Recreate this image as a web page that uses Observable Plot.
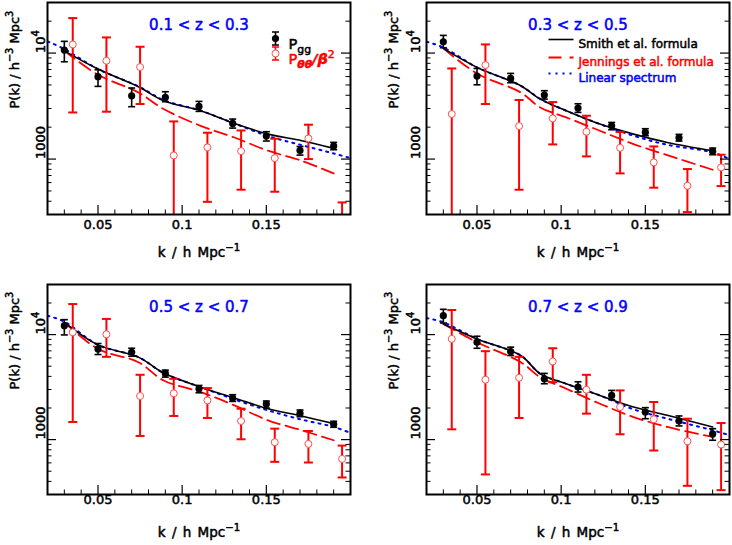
<!DOCTYPE html>
<html><head><meta charset="utf-8">
<script src="https://cdn.jsdelivr.net/npm/d3@7"></script>
<script src="https://cdn.jsdelivr.net/npm/@observablehq/plot@0.6"></script>
<style>
body{margin:0;background:#fff}
#wrap{position:relative;width:732px;height:545px;background:#fff}
.panel{position:absolute}
.panel svg{display:block}
</style>
</head><body><div id="wrap"></div>
<script>
// ---------- data ----------
const kDomain = [0.02, 0.2];
const pDomain = [300, 30000];
const kGG = [0.03, 0.05, 0.07, 0.09, 0.11, 0.13, 0.15, 0.17, 0.19];
const kTT = [0.035, 0.055, 0.075, 0.095, 0.115, 0.135, 0.155, 0.175, 0.195];
const kCurveL = [0.03, 0.05, 0.074, 0.089, 0.111, 0.131, 0.151, 0.171, 0.19];
const kCurveR = [0.03, 0.05, 0.076, 0.0875, 0.103, 0.123, 0.143, 0.163, 0.19];
const kLinL = [0.02, 0.03, 0.05, 0.074, 0.089, 0.111, 0.131, 0.151, 0.171, 0.19, 0.2];
const kLinR = [0.02, 0.03, 0.05, 0.076, 0.0875, 0.103, 0.123, 0.143, 0.163, 0.19, 0.2];

const xMajor = [0.05, 0.1, 0.15];
const xLabels = ["0.05", "0.1", "0.15"];
const xMinor = [0.03, 0.04, 0.06, 0.07, 0.08, 0.09, 0.11, 0.12, 0.13, 0.14, 0.16, 0.17, 0.18, 0.19];
const yMajor = [1000, 10000];
const yLabels = ["1000", "10^{4}"];
const yMinor = [400, 500, 600, 700, 800, 900, 2000, 3000, 4000, 5000, 6000, 7000, 8000, 9000, 20000];

const titles = ["0.1 < z < 0.3", "0.3 < z < 0.5", "0.5 < z < 0.7", "0.7 < z < 0.9"];
const xTitle = "k / h Mpc^{−1}";
const yTitle = "P(k) / h^{−3} Mpc^{3}";
const legendPoints = ["P_{gg}", "P!{θθ}~{/β}^{2}"];
const legendLines = ["Smith et al. formula", "Jennings et al. formula", "Linear spectrum"];

// panel 1: 0.1 < z < 0.3
const gg1 = [10670, 5990, 3955, 3816, 3141, 2170, 1648, 1208, 1327];
const gg1Lo = [8280, 4850, 3120, 3475, 2818, 1960, 1480, 1090, 1225];
const gg1Hi = [12900, 6960, 4680, 4320, 3500, 2384, 1812, 1316, 1437];
const tt1 = [12070, 8470, 7380, 1083, 1289, 1188, 1021, 1566, 230];
const tt1Lo = [2752, 2798, 3306, 100, 395, 514, 492, 1000, 100];
const tt1Hi = [21380, 14050, 11470, 2266, 1772, 1862, 1556, 2110, 390];
const smith1 = [10500, 7070, 4810, 3550, 2860, 2170, 1720, 1490, 1262];
const jen1 = [10500, 6250, 4250, 2966, 2060, 1598, 1199, 964, 732];
const lin1 = [12900, 10900, 7070, 4850, 3600, 2860, 2170, 1650, 1355, 1130, 1020];

// panel 2: 0.3 < z < 0.5
const gg2 = [12790, 6070, 5770, 4018, 3028, 2060, 1786, 1589, 1181];
const gg2Lo = [11230, 5020, 5250, 3680, 2755, 1890, 1660, 1478, 1099];
const gg2Hi = [14680, 7160, 6430, 4415, 3327, 2216, 1934, 1710, 1270];
const tt2 = [2660, 7710, 2046, 2420, 1812, 1278, 931, 560, 834];
const tt2Lo = [100, 3306, 514, 1375, 1060, 733, 537, 316, 556];
const tt2Hi = [7160, 12070, 3610, 3450, 2564, 1800, 1316, 805, 1099];
const smith2 = [11070, 7330, 4920, 3680, 2860, 2138, 1720, 1436, 1199];
const jen2 = [11070, 6420, 4250, 3070, 2470, 1850, 1386, 1090, 793];
const lin2 = [12790, 11300, 7330, 4920, 3700, 2860, 2138, 1660, 1365, 1156, 1000];

// panel 3: 0.5 < z < 0.7
const gg3 = [12170, 7310, 6790, 4270, 3050, 2490, 2183, 1778, 1399];
const gg3Lo = [9930, 6460, 6220, 3935, 2794, 2310, 2000, 1652, 1310];
const gg3Hi = [13880, 8220, 7410, 4590, 3280, 2677, 2330, 1914, 1494];
const tt3 = [10520, 10070, 2603, 2756, 2362, 1503, 944, 910, 655];
const tt3Lo = [1472, 6140, 1083, 1679, 1607, 1007, 614, 605, 436];
const tt3Hi = [19540, 14100, 4142, 3793, 3095, 1968, 1271, 1208, 877];
const smith3 = [13090, 7980, 6100, 4300, 3160, 2490, 1968, 1679, 1419];
const jen3 = [13090, 7310, 5460, 3655, 2837, 2120, 1527, 1227, 986];
const lin3 = [15140, 13280, 7980, 6100, 4300, 3160, 2416, 1897, 1549, 1319, 1157];

// panel 4: 0.7 < z < 0.9
const gg4 = [15140, 8460, 6900, 3793, 3162, 2636, 1832, 1503, 1132];
const gg4Lo = [12900, 7410, 6320, 3404, 2837, 2400, 1581, 1349, 986];
const gg4Hi = [17400, 9640, 7590, 4270, 3555, 2940, 2015, 1679, 1271];
const tt4 = [9100, 3718, 3882, 5550, 2985, 2042, 1561, 964, 897];
const tt4Lo = [1253, 466, 1607, 3525, 1767, 1124, 787, 363, 330];
const tt4Hi = [17140, 6950, 6140, 7410, 4140, 2940, 2280, 1581, 1438];
const smith4 = [12620, 9100, 6320, 4240, 3404, 2636, 2042, 1702, 1320];
const jen4 = [12620, 8460, 5460, 3935, 3050, 2197, 1640, 1320, 1060];
const lin4 = [14390, 13100, 9100, 6320, 4240, 3404, 2636, 1941, 1582, 1227, 1100];

// ---------- symbols ----------
const capSym = w => ({draw(c){ c.moveTo(-w,0); c.lineTo(w,0); }});
const hlineSym = w => ({draw(c){ c.moveTo(-w,0); c.lineTo(w,0); }});
const errSym = (h,w) => ({draw(c){ c.moveTo(0,-h); c.lineTo(0,h); c.moveTo(-w,-h); c.lineTo(w,-h); c.moveTo(-w,h); c.lineTo(w,h); }});

const RED = "#ff0000", BLUE = "#0000ff";
const FONT = "DejaVu Sans";
const TSW = 0.5; // slight text thickening

function txt(data, o) {
  return Plot.text(data, {stroke: o.fill, strokeWidth: TSW, paintOrder: "stroke", ...o});
}

function panel(cfg) {
  const m = cfg.m;
  const fw = cfg.W - m.l - m.r, fh = cfg.H - m.t - m.b;
  const idx = d3.range(kGG.length);
  const cI = d3.range(cfg.kc.length);
  const lI = d3.range(cfg.kl.length);
  const marks = [
    // model curves
    Plot.line(lI, {x: i => cfg.kl[i], y: i => cfg.lin[i], stroke: BLUE, strokeWidth: 2, strokeDasharray: "2,5", curve: "catmull-rom", clip: true}),
    Plot.line(cI, {x: i => cfg.kc[i], y: i => cfg.jen[i], stroke: RED, strokeWidth: 1.8, strokeDasharray: "13,6", curve: "catmull-rom", clip: true}),
    Plot.line(cI, {x: i => cfg.kc[i], y: i => cfg.smith[i], stroke: "black", strokeWidth: 1.6, curve: "catmull-rom", clip: true}),
    // P_gg error bars + points
    Plot.ruleX(idx, {x: i => kGG[i], y1: i => cfg.ggLo[i], y2: i => cfg.ggHi[i], stroke: "black", strokeWidth: 1.6, clip: true}),
    Plot.dot(idx, {x: i => kGG[i], y: i => cfg.ggHi[i], symbol: capSym(3.5), stroke: "black", fill: "none", strokeWidth: 1.6, clip: true}),
    Plot.dot(idx, {x: i => kGG[i], y: i => cfg.ggLo[i], symbol: capSym(3.5), stroke: "black", fill: "none", strokeWidth: 1.6, clip: true}),
    Plot.dot(idx, {x: i => kGG[i], y: i => cfg.gg[i], r: 3.6, fill: "black", stroke: "none", clip: true}),
    // P_tt error bars + points
    Plot.ruleX(idx, {x: i => kTT[i], y1: i => cfg.ttLo[i], y2: i => cfg.ttHi[i], stroke: RED, strokeWidth: 2, clip: true}),
    Plot.dot(idx, {x: i => kTT[i], y: i => cfg.ttHi[i], symbol: capSym(4.5), stroke: RED, fill: "none", strokeWidth: 2, clip: true}),
    Plot.dot(idx, {x: i => kTT[i], y: i => cfg.ttLo[i], symbol: capSym(4.5), stroke: RED, fill: "none", strokeWidth: 2, clip: true}),
    Plot.dot(idx, {x: i => kTT[i], y: i => cfg.tt[i], r: 3.5, fill: "white", stroke: "#ff5050", strokeWidth: 1, clip: true}),
    // ticks (inside the frame)
    Plot.tickY(yMinor, {y: d => d, insetRight: fw - 4.5, stroke: "black", strokeWidth: 1}),
    Plot.tickY(yMinor, {y: d => d, insetLeft: fw - 4.5, stroke: "black", strokeWidth: 1}),
    Plot.tickY(yMajor, {y: d => d, insetRight: fw - 9, stroke: "black", strokeWidth: 1.2}),
    Plot.tickY(yMajor, {y: d => d, insetLeft: fw - 9, stroke: "black", strokeWidth: 1.2}),
    Plot.tickX(xMinor, {x: d => d, insetTop: fh - 4.5, stroke: "black", strokeWidth: 1}),
    Plot.tickX(xMajor, {x: d => d, insetTop: fh - 9, stroke: "black", strokeWidth: 1.2}),
    Plot.frame({stroke: "black", strokeWidth: 2}),
    // tick labels
    txt(xMajor, {x: d => d, text: (d, i) => xLabels[i], frameAnchor: "bottom", dy: cfg.xlabDy, fontSize: 13, fill: "black"}),
    txt(yMajor, {y: d => d, text: (d, i) => yLabels[i], frameAnchor: "left", dx: -cfg.ylabGap, rotate: -90, lineAnchor: "bottom", fontSize: 13, fill: "black"}),
    // axis titles
    txt([xTitle], {text: d => d, frameAnchor: "bottom", dy: cfg.xtitDy, fontSize: 13.5, fill: "black"}),
    txt([yTitle], {text: d => d, frameAnchor: "left", dx: -33, rotate: -90, fontSize: 13, fill: "black"}),
    // panel title
    txt([cfg.title], {text: d => d, frameAnchor: "top", dy: 17, fontSize: 15, fill: BLUE})
  ];
  if (cfg.legendPoints) {
    marks.push(
      Plot.dot([0], {frameAnchor: "top-right", dx: -75, dy: 36, symbol: errSym(6.5, 3.5), stroke: "black", fill: "none", strokeWidth: 1.6}),
      Plot.dot([0], {frameAnchor: "top-right", dx: -75, dy: 36, r: 3.6, fill: "black", stroke: "none"}),
      Plot.dot([0], {frameAnchor: "top-right", dx: -75, dy: 51, symbol: errSym(6.5, 3.5), stroke: RED, fill: "none", strokeWidth: 1.6}),
      Plot.dot([0], {frameAnchor: "top-right", dx: -75, dy: 51, r: 3.5, fill: "white", stroke: "#ff5050", strokeWidth: 1}),
      txt([legendPoints[0]], {text: d => d, frameAnchor: "top-right", dx: -62, dy: 36, textAnchor: "start", fontSize: 14.5, fill: "black"}),
      txt([legendPoints[1]], {text: d => d, frameAnchor: "top-right", dx: -62, dy: 51, textAnchor: "start", fontSize: 14.5, fill: RED})
    );
  }
  if (cfg.legendLines) {
    marks.push(
      Plot.dot([0], {frameAnchor: "top-right", dx: -168.5, dy: 37, symbol: hlineSym(12.5), stroke: "black", fill: "none", strokeWidth: 1.6}),
      Plot.dot([0], {frameAnchor: "top-right", dx: -168.5, dy: 55, symbol: hlineSym(12.5), stroke: RED, fill: "none", strokeWidth: 1.8, strokeDasharray: "13,8"}),
      Plot.dot([0], {frameAnchor: "top-right", dx: -168.5, dy: 71, symbol: hlineSym(12.5), stroke: BLUE, fill: "none", strokeWidth: 2, strokeDasharray: "2,5"}),
      txt([legendLines[0]], {text: d => d, frameAnchor: "top-right", dx: -151, dy: 37, textAnchor: "start", fontSize: 12, fill: "black"}),
      txt([legendLines[1]], {text: d => d, frameAnchor: "top-right", dx: -151, dy: 55, textAnchor: "start", fontSize: 12, fill: RED}),
      txt([legendLines[2]], {text: d => d, frameAnchor: "top-right", dx: -151, dy: 71, textAnchor: "start", fontSize: 12, fill: BLUE})
    );
  }
  return Plot.plot({
    width: cfg.W, height: cfg.H,
    marginLeft: m.l, marginRight: m.r, marginTop: m.t, marginBottom: m.b,
    x: {domain: kDomain, axis: null},
    y: {type: "log", domain: pDomain, axis: null},
    style: {fontFamily: FONT, fontSize: "13px", background: "white", overflow: "visible"},
    marks
  });
}

const cfgs = [
  {left: 0, top: 0, W: 366, H: 272, m: {l: 47, r: 16, t: 2, b: 58}, ylabGap: 3, xlabDy: 14, xtitDy: 42, title: titles[0],
   gg: gg1, ggLo: gg1Lo, ggHi: gg1Hi, tt: tt1, ttLo: tt1Lo, ttHi: tt1Hi, kc: kCurveL, smith: smith1, jen: jen1, kl: kLinL, lin: lin1, legendPoints: true},
  {left: 366, top: 0, W: 366, H: 272, m: {l: 60, r: 3, t: 2, b: 58}, ylabGap: 7, xlabDy: 14, xtitDy: 42, title: titles[1],
   gg: gg2, ggLo: gg2Lo, ggHi: gg2Hi, tt: tt2, ttLo: tt2Lo, ttHi: tt2Hi, kc: kCurveR, smith: smith2, jen: jen2, kl: kLinR, lin: lin2, legendLines: true},
  {left: 0, top: 272, W: 366, H: 273, m: {l: 47, r: 16, t: 12, b: 51}, ylabGap: 3, xlabDy: 9, xtitDy: 42, title: titles[2],
   gg: gg3, ggLo: gg3Lo, ggHi: gg3Hi, tt: tt3, ttLo: tt3Lo, ttHi: tt3Hi, kc: kCurveL, smith: smith3, jen: jen3, kl: kLinL, lin: lin3},
  {left: 366, top: 272, W: 366, H: 273, m: {l: 60, r: 3, t: 12, b: 51}, ylabGap: 7, xlabDy: 9, xtitDy: 42, title: titles[3],
   gg: gg4, ggLo: gg4Lo, ggHi: gg4Hi, tt: tt4, ttLo: tt4Lo, ttHi: tt4Hi, kc: kCurveR, smith: smith4, jen: jen4, kl: kLinR, lin: lin4}
];

const wrap = document.getElementById("wrap");
for (const c of cfgs) {
  const div = document.createElement("div");
  div.className = "panel";
  div.style.left = c.left + "px";
  div.style.top = c.top + "px";
  div.appendChild(panel(c));
  wrap.appendChild(div);
}

// ---------- rich text: ^{sup} _{sub} !{bold-italic sub} ~{bold-italic} ----------
function richify(root) {
  const NS = "http://www.w3.org/2000/svg";
  root.querySelectorAll("text").forEach(el => {
    const s = el.textContent;
    if (s === xTitle) el.style.wordSpacing = "2px";
    if (!/[\^_~!]\{/.test(s)) return;
    const fs = parseFloat(getComputedStyle(el).fontSize) || 13;
    el.textContent = "";
    const re = /([\^_~!])\{([^}]*)\}|([^\^_~!{}]+)/g;
    let mm, cur = 0;
    while ((mm = re.exec(s))) {
      const t = document.createElementNS(NS, "tspan");
      let target = 0, size = fs, bi = false;
      if (mm[1] === "^") { target = -0.42 * fs; size = 0.75 * fs; }
      else if (mm[1] === "_") { target = 0.3 * fs; size = 0.75 * fs; }
      else if (mm[1] === "!") { target = 0.3 * fs; size = 0.75 * fs; bi = true; }
      else if (mm[1] === "~") { bi = true; }
      t.textContent = mm[1] ? mm[2] : mm[3];
      t.setAttribute("font-size", size);
      if (target !== cur) t.setAttribute("dy", target - cur);
      cur = target;
      if (bi) { t.setAttribute("font-style", "italic"); t.setAttribute("font-weight", "bold"); }
      el.appendChild(t);
    }
  });
}
richify(wrap);
</script>
</body></html>
